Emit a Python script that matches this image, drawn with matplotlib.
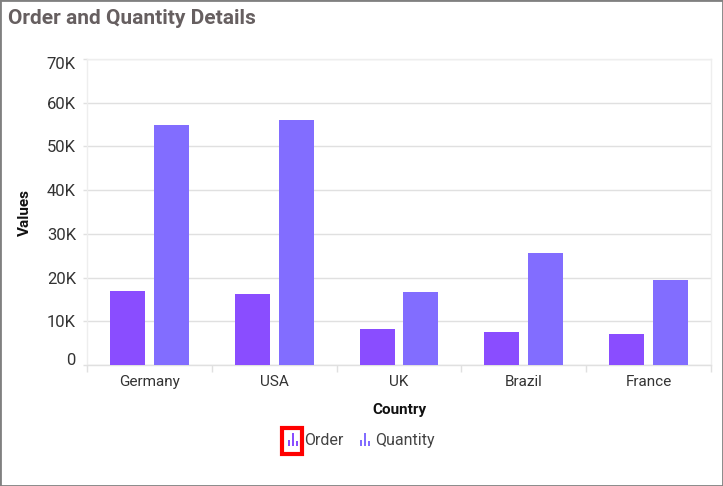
import matplotlib
matplotlib.use('Agg')
import matplotlib.pyplot as plt
import matplotlib.transforms as mtrans
from matplotlib.patches import Rectangle
import numpy as np

countries = ['Germany', 'USA', 'UK', 'Brazil', 'France']
order = [16900, 16200, 8200, 7500, 7100]
quantity = [54900, 56000, 16700, 25600, 19400]
y_ticks = [0, 10000, 20000, 30000, 40000, 50000, 60000, 70000]
y_labels = ['0', '10K', '20K', '30K', '40K', '50K', '60K', '70K']
legend_names = ['Order', 'Quantity']
order_color = '#8a4dff'
quantity_color = '#826dff'
icon_heights = [0.5, 1.0, 0.35]

W, H = 723, 486
plt.rcParams['font.family'] = ['Roboto', 'DejaVu Sans']

fig = plt.figure(figsize=(W / 100, H / 100), dpi=100, facecolor='white')

# outer border of the widget
fig.add_artist(Rectangle((0, 0), 1, 1, transform=fig.transFigure, fill=False,
                         edgecolor='#808080', linewidth=2))

ax = fig.add_axes([87 / W, 1 - 365 / H, (711 - 87) / W, (365 - 59) / H])
x = np.arange(len(countries))
ax.bar(x - 0.175, order, 0.28, color=order_color, zorder=3)
ax.bar(x + 0.175, quantity, 0.28, color=quantity_color, zorder=3)

ax.set_xlim(-0.5, 4.5)
ax.set_ylim(0, 70000)
ax.set_yticks(y_ticks)
ax.set_yticklabels(y_labels)
ax.set_xticks(x)
ax.set_xticklabels(countries)
ax.set_xticks(np.arange(-0.5, 5, 1), minor=True)
ax.grid(axis='y', color='#e0e0e0', linewidth=1, zorder=0)

for s in ['top', 'right', 'left', 'bottom']:
    ax.spines[s].set_color('#eeeeee')
    ax.spines[s].set_linewidth(1)
ax.spines['bottom'].set_color('#e0e0e0')

ax.tick_params(axis='y', length=3, width=1, color='#e0e0e0', pad=5,
               labelsize=12, labelcolor='#333333')
ax.tick_params(axis='x', which='major', length=0, pad=7, labelsize=11,
               labelcolor='#333333')
ax.tick_params(axis='x', which='minor', length=5, width=1, color='#e0e0e0')

# first and last y labels are nudged inside the plot area
labels = ax.get_yticklabels()
nudge = mtrans.ScaledTranslation(0, 6 / 100, fig.dpi_scale_trans)
labels[0].set_transform(labels[0].get_transform() + nudge)
nudge = mtrans.ScaledTranslation(0, -4 / 100, fig.dpi_scale_trans)
labels[-1].set_transform(labels[-1].get_transform() + nudge)

fig.text(8 / W, 1 - 19 / H, 'Order and Quantity Details', fontsize=15,
         fontweight='bold', color='#665f60', ha='left', va='center')
fig.text(25 / W, 1 - 212 / H, 'Values', fontsize=11, fontweight='bold',
         color='#111111', rotation=90, ha='center', va='center')
fig.text(399 / W, 1 - 410 / H, 'Country', fontsize=11, fontweight='bold',
         color='#111111', ha='center', va='center')

# legend: small bar icons, text next to them
def legend_icon(left, color):
    iax = fig.add_axes([left / W, 1 - 446 / H, 12 / W, 13 / H])
    iax.bar([0, 1, 2], icon_heights, 0.62, color=color)
    iax.set_xlim(-0.5, 2.5)
    iax.set_ylim(0, 1)
    iax.axis('off')

legend_icon(287, order_color)
legend_icon(359, quantity_color)
fig.text(304 / W, 1 - 440 / H, legend_names[0], fontsize=11.5, color='#444444',
         ha='left', va='center')
fig.text(375 / W, 1 - 440 / H, legend_names[1], fontsize=11.5, color='#444444',
         ha='left', va='center')
fig.add_artist(Rectangle((281.5 / W, 1 - 453.5 / H), 20 / W, 26 / H,
                         transform=fig.transFigure, fill=False,
                         edgecolor='#ff0000', linewidth=3))

fig.savefig('out.png', dpi=100)
